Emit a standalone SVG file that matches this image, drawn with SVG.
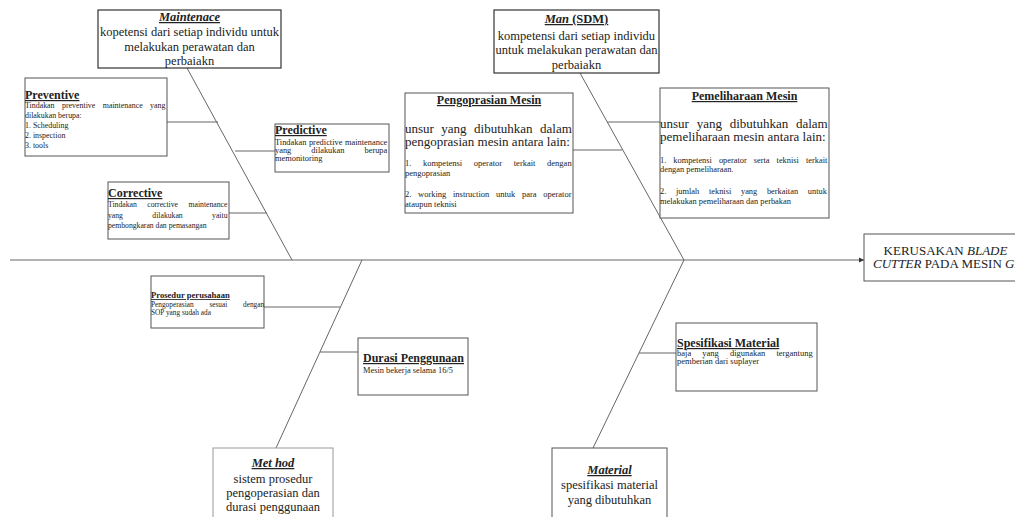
<svg xmlns="http://www.w3.org/2000/svg" width="1015" height="517" viewBox="0 0 1015 517">
<style>
text{font-family:"Liberation Serif","Times New Roman",serif;fill:#222}
.box{fill:#fff;stroke:#555;stroke-width:1}
.boxd{fill:#fff;stroke:#333;stroke-width:1.2}
.boxl{fill:#fff;stroke:#999;stroke-width:1}
.ln{stroke:#666;stroke-width:1;fill:none}
.t{font-weight:bold;text-decoration:underline;font-size:12px}
.ti{font-weight:bold;font-style:italic;text-decoration:underline;font-size:12.5px}
.b{font-size:12.5px}
.m{font-size:13px}
.s{font-size:7.7px}
.s79{font-size:7.9px}
.s84{font-size:8.4px}
.s85{font-size:8.5px}
.s7{font-size:7.3px}
.c{text-anchor:middle}
</style>
<defs>
<marker id="ah" markerWidth="6" markerHeight="6" refX="5" refY="3" orient="auto" markerUnits="userSpaceOnUse">
<path d="M0,0.5 L5,3 L0,5.5 Z" fill="#333"/>
</marker>
</defs>
<g id="connectors">
<line class="ln" x1="10" y1="260" x2="864" y2="260" marker-end="url(#ah)"/>
<line class="ln" x1="187" y1="68" x2="292" y2="260"/>
<line class="ln" x1="167" y1="122" x2="218" y2="122"/>
<line class="ln" x1="235" y1="151" x2="275" y2="151"/>
<line class="ln" x1="229" y1="213" x2="267" y2="213"/>
<line class="ln" x1="580" y1="73" x2="684" y2="260"/>
<line class="ln" x1="573" y1="150" x2="622" y2="150"/>
<line class="ln" x1="607" y1="122" x2="660" y2="122"/>
<line class="ln" x1="362" y1="260" x2="276" y2="448"/>
<line class="ln" x1="264" y1="307" x2="340" y2="307"/>
<line class="ln" x1="320" y1="352" x2="358" y2="352"/>
<line class="ln" x1="684" y1="260" x2="593" y2="448"/>
<line class="ln" x1="639" y1="353" x2="676" y2="353"/>
</g>
<g id="maintenace">
<rect class="boxd" x="98" y="10" width="183" height="58"/>
<text class="ti c" x="189.5" y="21">Maintenace</text>
<text class="b c" x="189.5" y="36">kopetensi dari setiap individu untuk</text>
<text class="b c" x="189.5" y="51">melakukan perawatan dan</text>
<text class="b c" x="189.5" y="65">perbaiakn</text>
</g>
<g id="preventive">
<rect class="box" x="25" y="78" width="142" height="78"/>
<text class="t" x="25" y="99">Preventive</text>
<text class="s79" x="25" y="108" word-spacing="5.5">Tindakan preventive maintenance yang</text>
<text class="s79" x="25" y="118">dilakukan berupa:</text>
<text class="s79" x="25" y="128">1. Scheduling</text>
<text class="s79" x="25" y="138">2. inspection</text>
<text class="s79" x="25" y="148">3. tools</text>
</g>
<g id="predictive">
<rect class="box" x="275" y="124" width="114" height="48"/>
<text class="t" x="275" y="134">Predictive</text>
<text class="s84" x="275" y="145" word-spacing="0.5">Tindakan predictive maintenance</text>
<text class="s84" x="275" y="153" word-spacing="18">yang dilakukan berupa</text>
<text class="s84" x="275" y="161">memonitoring</text>
</g>
<g id="corrective">
<rect class="box" x="108" y="182" width="121" height="57"/>
<text class="t" x="108" y="197">Corrective</text>
<text class="s" x="108" y="207" word-spacing="8.6">Tindakan corrective maintenance</text>
<text class="s" x="108" y="218" word-spacing="27.5">yang dilakukan yaitu</text>
<text class="s" x="108" y="228">pembongkaran dan pemasangan</text>
</g>
<g id="man">
<rect class="boxd" x="494" y="10" width="165" height="63"/>
<text class="ti c" x="576.5" y="23">Man <tspan font-style="normal">(SDM)</tspan></text>
<text class="b c" x="576.5" y="40">kompetensi dari setiap individu</text>
<text class="b c" x="576.5" y="54">untuk melakukan perawatan dan</text>
<text class="b c" x="576.5" y="69">perbaiakn</text>
</g>
<g id="pengoprasian">
<rect class="box" x="405" y="93" width="168" height="120"/>
<text class="t c" x="489" y="104">Pengoprasian Mesin</text>
<text class="m" x="405" y="133" word-spacing="4.2">unsur yang dibutuhkan dalam</text>
<text class="m" x="405" y="146">pengoprasian mesin antara lain:</text>
<text class="s85" x="405" y="166" word-spacing="9.5">1. kompetensi operator terkait dengan</text>
<text class="s85" x="405" y="176">pengoprasian</text>
<text class="s85" x="405" y="197" word-spacing="4.5">2. working instruction untuk para operator</text>
<text class="s85" x="405" y="207">ataupun teknisi</text>
</g>
<g id="pemeliharaan">
<rect class="box" x="660" y="88" width="169" height="130"/>
<text class="t c" x="744.5" y="100">Pemeliharaan Mesin</text>
<text class="m" x="660" y="128" word-spacing="4.5">unsur yang dibutuhkan dalam</text>
<text class="m" x="660" y="141">pemeliharaan mesin antara lain:</text>
<text class="s84" x="660" y="163" word-spacing="4.9">1. kompetensi operator serta teknisi terkait</text>
<text class="s84" x="660" y="172">dengan pemeliharaan.</text>
<text class="s84" x="660" y="194" word-spacing="7.6">2. jumlah teknisi yang berkaitan untuk</text>
<text class="s84" x="660" y="204">melakukan pemeliharaan dan perbakan</text>
</g>
<g id="kerusakan">
<rect class="box" x="864" y="234" width="160" height="47"/>
<text class="m c" x="945.5" y="255">KERUSAKAN <tspan font-style="italic">BLADE</tspan></text>
<text class="m" x="873" y="268"><tspan font-style="italic">CUTTER</tspan> PADA MESIN <tspan font-style="italic">GE</tspan></text>
</g>
<g id="prosedur">
<rect class="box" x="151" y="276" width="113" height="52"/>
<text class="t" x="151" y="298" style="font-size:8.6px">Prosedur perusahaan</text>
<text class="s7" x="151" y="307" word-spacing="14">Pengoperasian sesuai dengan</text>
<text class="s7" x="151" y="315">SOP yang sudah ada</text>
</g>
<g id="durasi">
<rect class="box" x="358" y="338" width="110" height="57"/>
<text class="t" x="363" y="362">Durasi Penggunaan</text>
<text class="s84" x="363" y="373">Mesin bekerja selama 16/5</text>
</g>
<g id="spesifikasi">
<rect class="box" x="676" y="323" width="141" height="68"/>
<text class="t" x="677" y="347">Spesifikasi Material</text>
<text class="s85" x="677" y="356" word-spacing="9">baja yang digunakan tergantung</text>
<text class="s85" x="677" y="364">pemberian dari suplayer</text>
</g>
<g id="method">
<rect class="boxl" x="213" y="448" width="120" height="80"/>
<text class="ti c" x="273" y="467">Met hod</text>
<text class="b c" x="273" y="483">sistem prosedur</text>
<text class="b c" x="273" y="497">pengoperasian dan</text>
<text class="b c" x="273" y="511">durasi penggunaan</text>
</g>
<g id="material">
<rect class="box" x="552" y="448" width="115" height="80"/>
<text class="ti c" x="609.5" y="474">Material</text>
<text class="b c" x="609.5" y="489">spesifikasi material</text>
<text class="b c" x="609.5" y="504">yang dibutuhkan</text>
</g>
</svg>
